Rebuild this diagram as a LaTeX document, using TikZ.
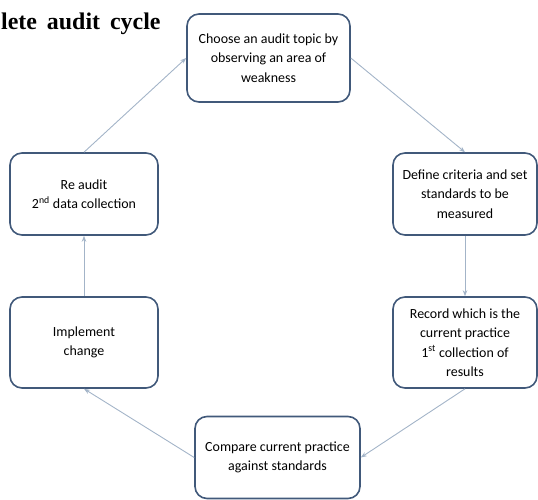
\documentclass[tikz,border=0pt]{standalone}
\usepackage{fontspec}
\setmainfont{Carlito}
\newfontfamily\titlefont{Liberation Serif}
\usetikzlibrary{arrows.meta}
\definecolor{boxline}{HTML}{41597A}
\definecolor{arrowline}{HTML}{A3B4C8}
\tikzset{
  stepbox/.style={draw=boxline, line width=1.6bp, rounded corners=12bp, fill=white,
    align=center, inner sep=0pt, font=\fontsize{14}{19.5}\selectfont},
  flow/.style={draw=arrowline, line width=0.9bp, -{Stealth[length=6bp,width=4.5bp]}},
}
\begin{document}
\begin{tikzpicture}[x=1bp,y=-1bp]
\useasboundingbox (0,0) rectangle (538,500);
\node[anchor=base west, font=\titlefont\bfseries\fontsize{24}{27}\selectfont, inner sep=0pt] (title) at (1,30) {lete\, audit\, cycle};
\node[stepbox, minimum width=163bp, minimum height=88bp] (choose) at (268.5,58)
  {Choose an audit topic by\\observing an area of\\weakness};
\node[stepbox, minimum width=144bp, minimum height=82bp] (define) at (465,194)
  {Define criteria and set\\standards to be\\measured};
\node[stepbox, minimum width=144bp, minimum height=91bp] (record) at (465,342.5)
  {Record which is the\\current practice\\1\textsuperscript{st} collection of\\results};
\node[stepbox, minimum width=165bp, minimum height=82bp] (compare) at (277.5,457.5)
  {Compare current practice\\against standards};
\node[stepbox, minimum width=148bp, minimum height=91bp] (implement) at (84,342.5)
  {Implement\\change};
\node[stepbox, minimum width=148bp, minimum height=82bp] (reaudit) at (84,194)
  {Re audit\\2\textsuperscript{nd} data collection};
\draw[flow] (reaudit.north) -- (choose.west);
\draw[flow] (choose.east) -- (define.north);
\draw[flow] (define.south) -- (record.north);
\draw[flow] (record.south) -- (compare.east);
\draw[flow] (compare.west) -- (implement.south);
\draw[flow] (implement.north) -- (reaudit.south);
\end{tikzpicture}
\end{document}
